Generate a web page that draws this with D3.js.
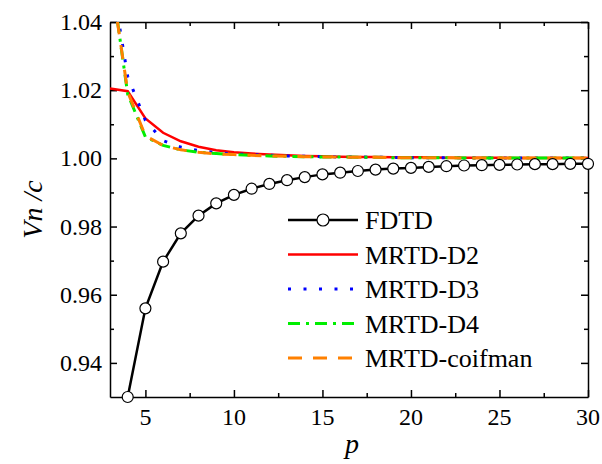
<!DOCTYPE html>
<html>
<head>
<meta charset="utf-8">
<script src="https://cdn.jsdelivr.net/npm/d3@7"></script>
</head>
<body style="margin:0">
<svg id="SvgContainer" width="602" height="464"></svg>
<script>
// data
var pValues = [3,4,5,6,7,8,9,10,11,12,13,14,15,16,17,18,19,20,21,22,23,24,25,26,27,28,29,30];
var fdtdP = [4,5,6,7,8,9,10,11,12,13,14,15,16,17,18,19,20,21,22,23,24,25,26,27,28,29,30];
var fdtd = [0.930,0.956,0.9697,0.978,0.9832,0.9868,0.9893,0.9911,0.9925,0.9936,0.9945,0.9953,0.9958,0.9963,0.9967,0.9970,0.9972,0.9975,0.9977,0.9979,0.9980,0.9981,0.9982,0.9983,0.9983,0.9984,0.9984];
var mrtdD2 = [1.0205,1.0197,1.0117,1.0075,1.0050,1.0034,1.0024,1.0018,1.0014,1.0011,1.0009,1.0007,1.0006,1.0005,1.0004,1.0004,1.0003,1.0003,1.0003,1.0002,1.0002,1.0002,1.0002,1.0001,1.0001,1.0001,1.0001,1.0001];
var mrtdD3 = [1.056,1.0240,1.0111,1.0052,1.0033,1.0023,1.0017,1.0013,1.0011,1.0009,1.0007,1.0006,1.0005,1.0004,1.0004,1.0003,1.0003,1.0002,1.0002,1.0002,1.0002,1.0001,1.0001,1.0001,1.0001,1.0001,1.0001,1.0001];
var mrtdD4 = [1.056,1.0188,1.0063,1.0038,1.0025,1.0018,1.0014,1.0011,1.0009,1.0007,1.0006,1.0005,1.0004,1.0004,1.0003,1.0003,1.0002,1.0002,1.0002,1.0002,1.0001,1.0001,1.0001,1.0001,1.0001,1.0001,1.0001,1.0001];
var mrtdCoif = [1.055,1.0195,1.0066,1.0038,1.0025,1.0018,1.0013,1.0011,1.0009,1.0007,1.0006,1.0005,1.0004,1.0004,1.0003,1.0003,1.0002,1.0002,1.0002,1.0002,1.0001,1.0001,1.0001,1.0001,1.0001,1.0001,1.0001,1.0001];

var xMajor = [5,10,15,20,25,30];
var xMinor = [7.5,12.5,17.5,22.5,27.5];
var yMajor = [0.94,0.96,0.98,1.00,1.02,1.04];
var yMinor = [0.95,0.97,0.99,1.01,1.03];

var seriesNames = ["FDTD","MRTD-D2","MRTD-D3","MRTD-D4","MRTD-coifman"];

var serifFont = "Liberation Serif";

function Draw() {
    var left = 110, right = 588, top = 22, bottom = 397;

    var svg = d3.select("#SvgContainer");

    var x = d3.scaleLinear().domain([3, 30]).range([left, right]);
    var y = d3.scaleLinear().domain([0.93, 1.04]).range([bottom, top]);

    svg.append("defs").append("clipPath")
        .attr("id", "plotClip")
        .append("rect")
        .attr("x", left).attr("y", top)
        .attr("width", right - left).attr("height", bottom - top);

    // axes with inward ticks, labels drawn as own text
    function styleAxis(g) {
        g.selectAll("path").attr("stroke", "#000").attr("stroke-width", 1.5);
        g.selectAll("line").attr("stroke", "#000").attr("stroke-width", 1.5);
        g.selectAll("text").remove();
    }

    function ticksOnly(axis, major, minor, pos) {
        svg.append("g").attr("transform", pos)
            .call(axis.tickValues(major).tickSizeInner(-7).tickSizeOuter(0))
            .call(styleAxis);
        svg.append("g").attr("transform", pos)
            .call(axis.tickValues(minor).tickSizeInner(-4).tickSizeOuter(0))
            .call(styleAxis).select("path").remove();
    }

    ticksOnly(d3.axisBottom(x), xMajor, xMinor, "translate(0," + bottom + ")");
    ticksOnly(d3.axisTop(x), xMajor, xMinor, "translate(0," + top + ")");
    ticksOnly(d3.axisLeft(y), yMajor, yMinor, "translate(" + left + ",0)");
    ticksOnly(d3.axisRight(y), yMajor, yMinor, "translate(" + right + ",0)");

    svg.selectAll(".xTickLabel")
        .data(xMajor)
        .enter()
        .append("text")
        .attr("class", "xTickLabel")
        .attr("x", function (d) { return x(d); })
        .attr("y", 425)
        .attr("text-anchor", "middle")
        .attr("font-size", 24)
        .style("font-family", serifFont)
        .text(function (d) { return d; });

    svg.selectAll(".yTickLabel")
        .data(yMajor)
        .enter()
        .append("text")
        .attr("class", "yTickLabel")
        .attr("x", 102)
        .attr("y", function (d) { return y(d) + 8; })
        .attr("text-anchor", "end")
        .attr("font-size", 24)
        .style("font-family", serifFont)
        .text(function (d) { return d.toFixed(2); });

    // axis titles
    svg.append("text")
        .attr("x", (left + right) / 2 + 3)
        .attr("y", 453)
        .attr("text-anchor", "middle")
        .attr("font-size", 28)
        .attr("font-style", "italic")
        .style("font-family", serifFont)
        .text("p");

    svg.append("text")
        .attr("transform", "translate(42," + ((top + bottom) / 2) + ") rotate(-90)")
        .attr("text-anchor", "middle")
        .attr("font-size", 28)
        .attr("font-style", "italic")
        .style("font-family", serifFont)
        .text("Vn /c");

    // series
    var styles = [
        { color: "#000000", width: 2.5, dash: null },
        { color: "#ff0000", width: 2.5, dash: null },
        { color: "#0000ff", width: 3, dash: "3,12.5" },
        { color: "#00ee00", width: 3, dash: "12,6,3,6" },
        { color: "#ff8000", width: 3, dash: "14,11" }
    ];

    var line = d3.line()
        .x(function (d) { return x(d[0]); })
        .y(function (d) { return y(d[1]); });

    var plot = svg.append("g").attr("clip-path", "url(#plotClip)");

    var mrtdSeries = [mrtdD2, mrtdD3, mrtdD4, mrtdCoif];
    mrtdSeries.forEach(function (vals, k) {
        var st = styles[k + 1];
        plot.append("path")
            .datum(pValues.map(function (p, i) { return [p, vals[i]]; }))
            .attr("d", line)
            .attr("fill", "none")
            .attr("stroke", st.color)
            .attr("stroke-width", st.width)
            .attr("stroke-dasharray", st.dash);
    });

    var fdtdData = fdtdP.map(function (p, i) { return [p, fdtd[i]]; });
    plot.append("path")
        .datum(fdtdData)
        .attr("d", line)
        .attr("fill", "none")
        .attr("stroke", "#000")
        .attr("stroke-width", 2.5);

    svg.append("g").selectAll("circle")
        .data(fdtdData)
        .enter()
        .append("circle")
        .attr("cx", function (d) { return x(d[0]); })
        .attr("cy", function (d) { return y(d[1]); })
        .attr("r", 5.5)
        .attr("fill", "#fff")
        .attr("stroke", "#000")
        .attr("stroke-width", 1.2);

    // legend
    var legX1 = 288, legX2 = 358, legY = 220, legStep = 34.5;
    var legend = svg.append("g");
    seriesNames.forEach(function (name, i) {
        var st = styles[i];
        var yy = legY + i * legStep;
        legend.append("line")
            .attr("x1", legX1).attr("x2", legX2)
            .attr("y1", yy).attr("y2", yy)
            .attr("stroke", st.color)
            .attr("stroke-width", st.width)
            .attr("stroke-dasharray", st.dash);
        if (i === 0) {
            legend.append("circle")
                .attr("cx", (legX1 + legX2) / 2)
                .attr("cy", yy)
                .attr("r", 6)
                .attr("fill", "#fff")
                .attr("stroke", "#000")
                .attr("stroke-width", 1.2);
        }
        legend.append("text")
            .attr("x", 365)
            .attr("y", yy + 9)
            .attr("font-size", 26)
            .style("font-family", serifFont)
            .text(name);
    });
}

Draw();
</script>
</body>
</html>
